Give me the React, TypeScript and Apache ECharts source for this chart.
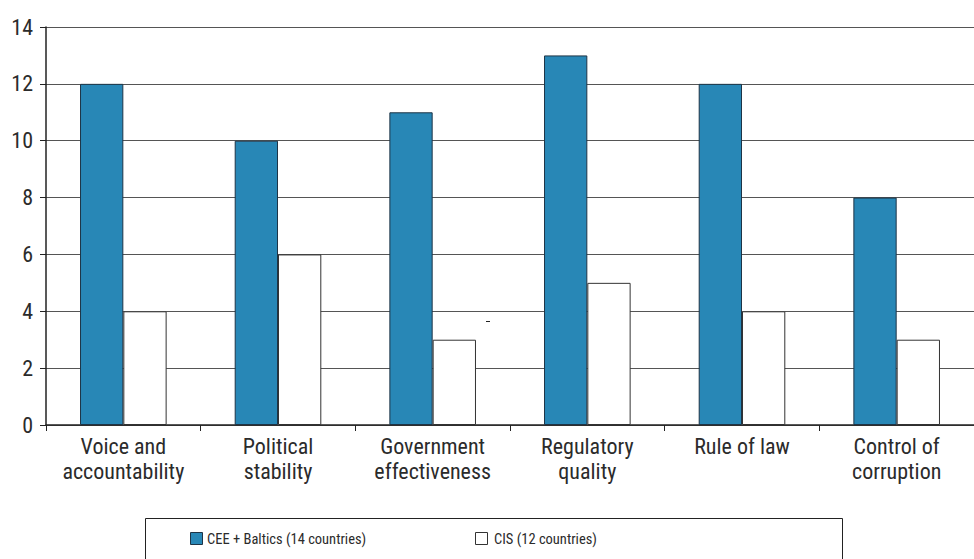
import React, { useEffect, useRef } from "react";
import * as echarts from "echarts";

const categories = [
  "Voice and\naccountability",
  "Political\nstability",
  "Government\neffectiveness",
  "Regulatory\nquality",
  "Rule of law",
  "Control of\ncorruption",
];
const ceeValues = [12, 10, 11, 13, 12, 8];
const cisValues = [4, 6, 3, 5, 4, 3];
const seriesNames = ["CEE + Baltics (14 countries)", "CIS (12 countries)"];

const FONT = "'Liberation Sans Narrow', 'Roboto Condensed', 'Arial Narrow', Roboto, sans-serif";
const BLUE = "#2887b6";

export default function App() {
  const ref = useRef<HTMLDivElement>(null);
  useEffect(() => {
    const chart = echarts.init(ref.current!, null, { renderer: "svg" });
    chart.setOption({
      animation: false,
      backgroundColor: "#fff",
      grid: { left: 46, right: 0, top: 27, bottom: 134, containLabel: false },
      legend: { show: false },
      xAxis: {
        type: "category",
        data: categories,
        axisLine: { lineStyle: { color: "#222", width: 1.5 } },
        axisTick: { show: true, interval: 0, length: 6, lineStyle: { color: "#222" } },
        axisLabel: {
          interval: 0,
          color: "#2b2b2b",
          fontSize: 22,
          fontFamily: FONT,
          lineHeight: 25,
          margin: 9,
          hideOverlap: false,
        },
        splitLine: { show: false },
      },
      yAxis: {
        type: "value",
        min: 0,
        max: 14,
        interval: 2,
        axisLine: { show: true, lineStyle: { color: "#222", width: 1.5 } },
        axisTick: { show: true, length: 6, lineStyle: { color: "#222" } },
        axisLabel: { color: "#2b2b2b", fontSize: 22, fontFamily: FONT, margin: 13 },
        splitLine: { show: true, lineStyle: { color: "#555", width: 1 } },
      },
      series: [
        {
          name: seriesNames[0],
          type: "bar",
          data: ceeValues,
          barGap: "0%",
          barCategoryGap: "44%",
          itemStyle: { color: BLUE, borderColor: "#1e3446", borderWidth: 1 },
        },
        {
          name: seriesNames[1],
          type: "bar",
          data: cisValues,
          barGap: "0%",
          barCategoryGap: "44%",
          itemStyle: { color: "#fff", borderColor: "#333", borderWidth: 1 },
        },
      ],
      graphic: [
        {
          type: "rect",
          shape: { x: 145.5, y: 518.5, width: 697, height: 60 },
          style: { fill: "#fff", stroke: "#222", lineWidth: 1 },
        },
        {
          type: "rect",
          shape: { x: 190.5, y: 532.5, width: 12, height: 12 },
          style: { fill: BLUE, stroke: "#1e3446", lineWidth: 1 },
        },
        {
          type: "text",
          x: 207,
          y: 539,
          style: {
            text: seriesNames[0],
            fill: "#2b2b2b",
            fontSize: 14.5,
            fontFamily: FONT,
            textVerticalAlign: "middle",
          },
        },
        {
          type: "rect",
          shape: { x: 475.5, y: 532.5, width: 12, height: 12 },
          style: { fill: "#fff", stroke: "#333", lineWidth: 1 },
        },
        {
          type: "text",
          x: 494,
          y: 539,
          style: {
            text: seriesNames[1],
            fill: "#2b2b2b",
            fontSize: 14.5,
            fontFamily: FONT,
            textVerticalAlign: "middle",
          },
        },
        {
          type: "line",
          shape: { x1: 486, y1: 321.5, x2: 490, y2: 321.5 },
          style: { stroke: "#222", lineWidth: 1 },
        },
      ],
    });
    return () => chart.dispose();
  }, []);
  return <div ref={ref} style={{ width: 974, height: 559, position: "absolute", left: 0, top: 0 }} />;
}
